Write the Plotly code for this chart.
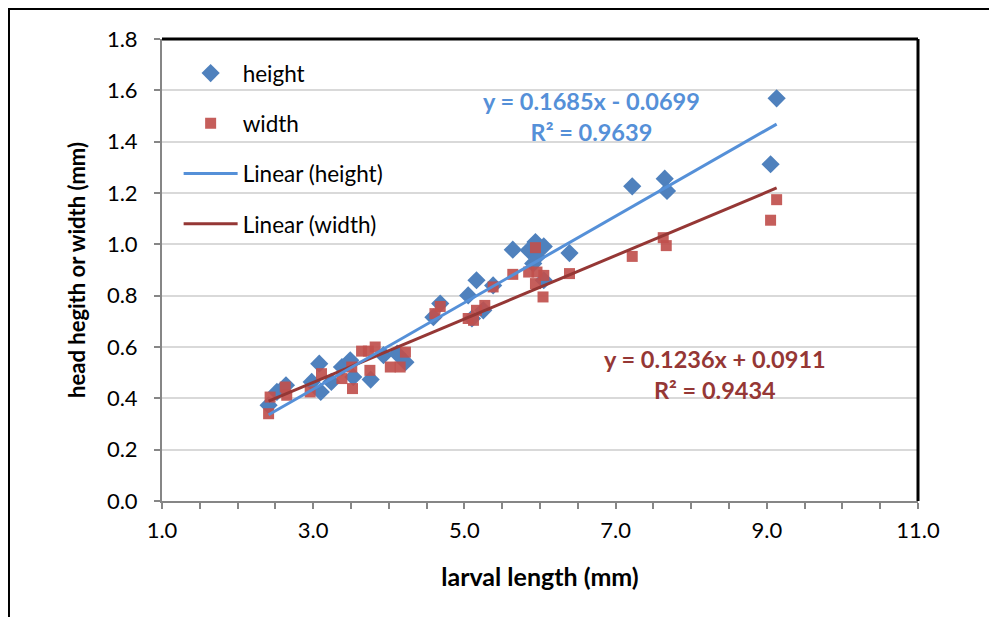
import plotly.graph_objects as go
import numpy as np

# ---- data ----
height_x = [2.41, 2.52, 2.64, 3.08, 2.98, 3.10, 3.24, 3.38, 3.49, 3.53, 3.76, 3.93, 4.22, 4.11,
            4.68, 4.59, 5.05, 5.16, 5.10, 5.25, 5.38, 5.64, 5.85, 5.94, 6.05, 5.96, 5.91, 6.05, 6.39,
            7.22, 7.65, 7.68, 9.05, 9.13]
height_y = [0.373, 0.425, 0.451, 0.535, 0.464, 0.425, 0.464, 0.522, 0.548, 0.483, 0.473, 0.568, 0.541, 0.574,
            0.769, 0.716, 0.801, 0.860, 0.711, 0.743, 0.840, 0.979, 0.977, 1.009, 0.992, 0.951, 0.925, 0.860, 0.966,
            1.226, 1.256, 1.208, 1.312, 1.569]

width_x = [2.41, 2.43, 2.63, 2.65, 2.96, 3.11, 3.38, 3.51, 3.52, 3.64, 3.73, 3.75, 3.82, 4.02, 4.15, 4.22,
           4.61, 4.68, 5.05, 5.12, 5.16, 5.27, 5.38, 5.64, 5.85, 5.94, 5.96, 6.05, 5.94, 6.04, 6.39,
           7.22, 7.63, 7.67, 9.05, 9.13]
width_y = [0.340, 0.405, 0.444, 0.412, 0.425, 0.496, 0.477, 0.522, 0.438, 0.584, 0.584, 0.509, 0.600, 0.522, 0.522, 0.580,
           0.730, 0.758, 0.711, 0.704, 0.743, 0.762, 0.834, 0.883, 0.892, 0.987, 0.892, 0.879, 0.847, 0.795, 0.886,
           0.953, 1.026, 0.995, 1.094, 1.174]

# trendline coefficients as printed on the chart
trend_height = (0.1685, -0.0699, 0.9639)
trend_width = (0.1236, 0.0911, 0.9434)

x_ticks = [1.0, 3.0, 5.0, 7.0, 9.0, 11.0]
y_ticks = [0.0, 0.2, 0.4, 0.6, 0.8, 1.0, 1.2, 1.4, 1.6, 1.8]

FONT = "Lato"
BLUE_M = "#4F81BD"
RED_M = "#C0504D"
BLUE_L = "#5590D8"
RED_L = "#953735"


def trend(xs, coef):
    xr = np.array([min(xs), max(xs)])
    return xr, coef[0] * xr + coef[1]


fig = go.Figure()
fig.add_trace(go.Scatter(x=height_x, y=height_y, mode="markers", name="height",
                         marker=dict(symbol="diamond", size=14, color=BLUE_M),
                         legendgroup="a", legendrank=1))
fig.add_trace(go.Scatter(x=width_x, y=width_y, mode="markers", name="width",
                         marker=dict(symbol="square", size=11, color=RED_M, opacity=0.92),
                         legendgroup="b", legendrank=2))
hx, hy = trend(height_x, trend_height)
wx, wy = trend(width_x, trend_width)
fig.add_trace(go.Scatter(x=wx, y=wy, mode="lines", name="Linear (width)",
                         line=dict(color=RED_L, width=3), legendgroup="d", legendrank=4))
fig.add_trace(go.Scatter(x=hx, y=hy, mode="lines", name="Linear (height)",
                         line=dict(color=BLUE_L, width=3), legendgroup="c", legendrank=3))

def eq_text(c):
    sign = "-" if c[1] < 0 else "+"
    return f"y = {c[0]:.4f}x {sign} {abs(c[1]):.4f}<br>R² = {c[2]:.4f}"

fig.add_annotation(x=6.68, y=1.497, xref="x", yref="y", text=eq_text(trend_height),
                   showarrow=False, align="center",
                   font=dict(family=FONT, size=23.5, color=BLUE_L, weight="bold"))
fig.add_annotation(x=8.32, y=0.494, xref="x", yref="y", text=eq_text(trend_width),
                   showarrow=False, align="center",
                   font=dict(family=FONT, size=23.5, color=RED_L, weight="bold"))

# plot-area border (top/right black) and outer frame
fig.add_shape(type="line", xref="paper", yref="paper", x0=0, x1=1, y0=1, y1=1,
              line=dict(color="black", width=3))
fig.add_shape(type="line", xref="paper", yref="paper", x0=1, x1=1, y0=0, y1=1,
              line=dict(color="black", width=3))
fig.add_shape(type="path", xref="paper", yref="paper",
              path="M -0.2024,-0.3 L -0.2024,1.0649 L 1.13,1.0649",
              line=dict(color="black", width=2))

fig.update_layout(
    width=997, height=617,
    margin=dict(l=154, r=87, t=31, b=124),
    paper_bgcolor="white", plot_bgcolor="white",
    font=dict(family=FONT, size=22, color="black"),
    showlegend=True,
    legend=dict(x=0.022, y=0.972, xanchor="left", yanchor="top",
                bgcolor="rgba(0,0,0,0)", font=dict(family=FONT, size=22.5),
                tracegroupgap=18, itemwidth=54),
    xaxis=dict(range=[1, 11], tickvals=x_ticks, ticktext=[f"{v:.1f}" for v in x_ticks],
               ticks="outside", ticklen=6, tickwidth=2, tickcolor="#868686",
               minor=dict(dtick=0.5, tick0=1, ticks="outside", ticklen=6, tickwidth=2,
                          tickcolor="#868686", showgrid=False),
               showline=True, linecolor="#868686", linewidth=2, showgrid=False, zeroline=False,
               title=dict(text="<b>larval length (mm)</b>", font=dict(size=25), standoff=26),
               ticklabelstandoff=3),
    yaxis=dict(range=[0, 1.8], tickvals=y_ticks, ticktext=[f"{v:.1f}" for v in y_ticks],
               ticks="outside", ticklen=6, tickwidth=2, tickcolor="#868686",
               showline=True, linecolor="#868686", linewidth=2,
               showgrid=True, gridcolor="#D9D9D9", gridwidth=2, zeroline=False,
               title=dict(text="<b>head hegith or width (mm)</b>", font=dict(size=22), standoff=15),
               ticklabelstandoff=12),
)

fig.write_html("out.html")
